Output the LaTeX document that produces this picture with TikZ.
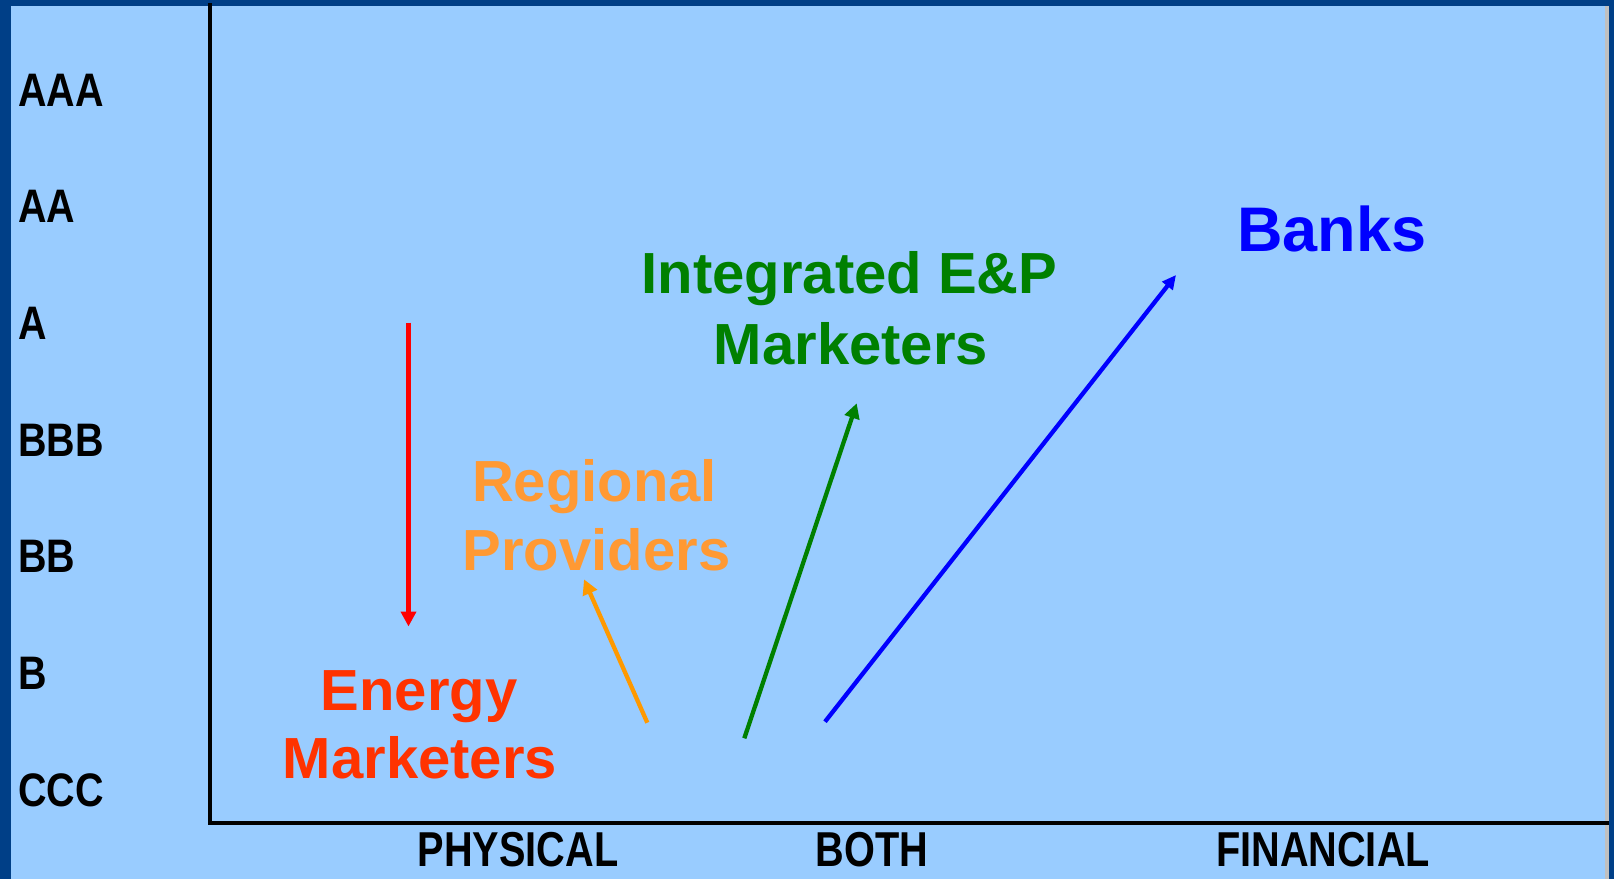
\documentclass[tikz,border=0pt]{standalone}
\usepackage{fontspec}
\setmainfont{Liberation Sans}
\usetikzlibrary{arrows.meta}
\definecolor{frameblue}{HTML}{003F87}
\definecolor{panelblue}{HTML}{99CCFF}
\definecolor{edgegray}{HTML}{C0C0C0}
\definecolor{energyred}{HTML}{FF3300}
\definecolor{regionalorange}{HTML}{FF9933}
\definecolor{arroworange}{HTML}{FF9900}
\definecolor{epgreen}{HTML}{008000}
\definecolor{bankblue}{HTML}{0000FF}
\begin{document}
\begin{tikzpicture}[x=1pt,y=-1pt,
  rating/.style={anchor=base west,inner sep=0pt,font=\fontsize{47}{56}\selectfont\bfseries},
  axislabel/.style={anchor=base,inner sep=0pt,font=\fontsize{49}{58}\selectfont\bfseries},
  player/.style={anchor=base,inner sep=0pt,font=\fontsize{58}{68}\selectfont\bfseries},
  move/.style={line width=4.3pt,-{Triangle[length=15pt,width=15pt]}}]
  % background and frame
  \useasboundingbox (0,0) rectangle (1614,879);
  \fill[frameblue] (0,0) rectangle (1614,879);
  \fill[panelblue] (11,6) rectangle (1605,879);
  \fill[edgegray] (1605,6) rectangle (1609,879);
  % axes
  \draw[line width=4.3pt,miter limit=10] (210,3) -- (210,823) -- (1609,823);
  % rating scale
  \node[rating] (aaa) at (18,106) {\scalebox{0.84}[1]{AAA}};
  \node[rating] (aa)  at (18,222.7) {\scalebox{0.84}[1]{AA}};
  \node[rating] (a)   at (18,339.3) {\scalebox{0.84}[1]{A}};
  \node[rating] (bbb) at (18,456) {\scalebox{0.84}[1]{BBB}};
  \node[rating] (bb)  at (18,572.7) {\scalebox{0.84}[1]{BB}};
  \node[rating] (b)   at (18,689.3) {\scalebox{0.84}[1]{B}};
  \node[rating] (ccc) at (18,806) {\scalebox{0.84}[1]{CCC}};
  % business focus
  \node[axislabel] (physical)  at (518,866.5)  {\scalebox{0.81}[1]{PHYSICAL}};
  \node[axislabel] (both)      at (872,866.5)  {\scalebox{0.81}[1]{BOTH}};
  \node[axislabel] (financial) at (1323,866.5) {\scalebox{0.81}[1]{FINANCIAL}};
  % market players
  \node[player,text=energyred] (energyA) at (419,710) {Energy};
  \node[player,text=energyred] (energyB) at (420,778.3) {Marketers};
  \node[player,text=regionalorange] (regionalA) at (594.5,501.7) {Regional};
  \node[player,text=regionalorange] (regionalB) at (596.5,570) {Providers};
  \node[player,text=epgreen] (integratedA) at (849.5,293.3) {Integrated E\&P};
  \node[player,text=epgreen] (integratedB) at (851,364) {Marketers};
  \node[player,text=bankblue,font=\fontsize{63}{72}\selectfont\bfseries] (banks) at (1331.7,251) {Banks};
  % migration arrows
  \coordinate (redtail) at (408.5,322.7);
  \coordinate (redtip) at (408.5,626.5);
  \coordinate (orangetail) at (647.3,722.7);
  \coordinate (orangetip) at (584,579.3);
  \coordinate (greentail) at (744.3,738.3);
  \coordinate (greentip) at (856.7,403.3);
  \coordinate (bluetail) at (825,721.7);
  \coordinate (bluetip) at (1176,275);
  \draw[move,red] (redtail) -- (redtip);
  \draw[move,arroworange] (orangetail) -- (orangetip);
  \draw[move,epgreen] (greentail) -- (greentip);
  \draw[move,bankblue,-{Triangle[length=14pt,width=13pt]}] (bluetail) -- (bluetip);
\end{tikzpicture}
\end{document}
